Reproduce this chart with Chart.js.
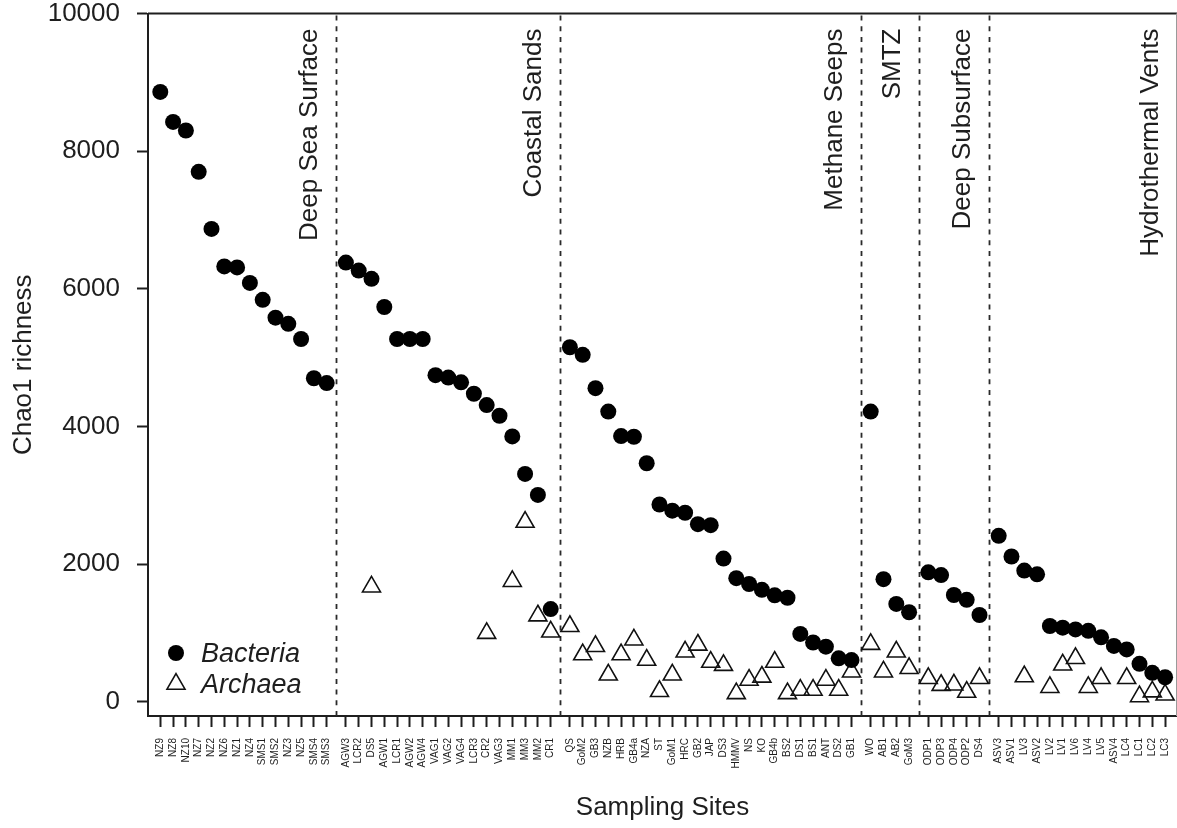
<!DOCTYPE html>
<html>
<head>
<meta charset="utf-8">
<title>Chao1 richness by sampling site</title>
<script src="https://cdn.jsdelivr.net/npm/chart.js@4.4.1/dist/chart.umd.min.js"></script>
<style>
  html, body { margin: 0; padding: 0; background: #fff; }
  canvas { display: block; }
</style>
</head>
<body>
<canvas id="richnessChart" width="1177" height="828"></canvas>
<script>
// Sites grouped by habitat, in plotting order
const groupNames = ['Deep Sea Surface', 'Coastal Sands', 'Methane Seeps', 'SMTZ', 'Deep Subsurface', 'Hydrothermal Vents'];
const groupSizes = [14, 17, 23, 4, 5, 14];

const sites = [
    'NZ9', 'NZ8', 'NZ10', 'NZ7', 'NZ2', 'NZ6', 'NZ1', 'NZ4', 'SMS1', 'SMS2', 'NZ3', 'NZ5', 'SMS4', 'SMS3',
    'AGW3', 'LCR2', 'DS5', 'AGW1', 'LCR1', 'AGW2', 'AGW4', 'VAG1', 'VAG2', 'VAG4', 'LCR3', 'CR2', 'VAG3', 'MM1', 'MM3', 'MM2', 'CR1',
    'QS', 'GoM2', 'GB3', 'NZB', 'HRB', 'GB4a', 'NZA', 'ST', 'GoM1', 'HRC', 'GB2', 'JAP', 'DS3', 'HMMV', 'NS', 'KO', 'GB4b', 'BS2', 'DS1', 'BS1', 'ANT', 'DS2', 'GB1',
    'WO', 'AB1', 'AB2', 'GoM3',
    'ODP1', 'ODP3', 'ODP4', 'ODP2', 'DS4',
    'ASV3', 'ASV1', 'LV3', 'ASV2', 'LV2', 'LV1', 'LV6', 'LV4', 'LV5', 'ASV4', 'LC4', 'LC1', 'LC2', 'LC3'
];

// Chao1 richness estimates (null = not sequenced)
const bacteria = [
    8860, 8425, 8300, 7700, 6870, 6325, 6310, 6085, 5840, 5580, 5490, 5270, 4700, 4630,
    6380, 6265, 6145, 5735, 5270, 5270, 5270, 4745, 4710, 4640, 4475, 4310, 4155, 3855, 3310, 3005, 1345,
    5150, 5040, 4555, 4215, 3860, 3850, 3465, 2865, 2775, 2745, 2580, 2565, 2080, 1795, 1710, 1625, 1545, 1510, 985, 860, 800, 630, 605,
    4215, 1780, 1420, 1300,
    1880, 1840, 1550, 1480, 1260,
    2410, 2110, 1905, 1850, 1100, 1075, 1050, 1030, 935, 810, 760, 550, 420, 355
];

const archaea = [
    null, null, null, null, null, null, null, null, null, null, null, null, null, null,
    null, null, 1670, null, null, null, null, null, null, null, null, 995, null, 1750, 2610, 1250, 1015,
    1095, 685, 805, 390, 685, 900, 605, 150, 390, 725, 825, 575, 530, 120, 315, 360, 575, 120, 170, 170, 315, 170, 435,
    835, 435, 725, 485,
    340, 240, 245, 140, 340,
    null, null, 365, null, 210, 535, 630, 210, 340, null, 340, 75, 145, 100
];

const yTicks = [0, 2000, 4000, 6000, 8000, 10000];

// x position of each site: one unit per site, half a unit extra between groups
const groupOf = [];
groupSizes.forEach((n, g) => { for (let k = 0; k < n; k++) groupOf.push(g); });
const xPos = sites.map((s, i) => i + 0.5 * groupOf[i]);

// dashed separators sit midway in each gap
const boundaries = [];
let last = -1;
groupSizes.forEach((n, g) => {
    last += n;
    if (g < groupSizes.length - 1) boundaries.push(xPos[last] + 0.75);
});

const ink = '#1e1e1e';
const fontFamily = '"Liberation Sans", Arial, Helvetica, sans-serif';

// Frame, group separators, group names and the inset legend
const decorations = {
    id: 'decorations',
    beforeDatasetsDraw(chart) {
        const { ctx, chartArea: area, scales: { x } } = chart;
        ctx.save();

        // top and right sides of the box
        ctx.strokeStyle = ink;
        ctx.lineWidth = 2;
        ctx.beginPath();
        ctx.moveTo(area.left, area.top);
        ctx.lineTo(area.right, area.top);
        ctx.stroke();
        ctx.strokeStyle = '#9a9a9a';
        ctx.beginPath();
        ctx.moveTo(area.right, area.top);
        ctx.lineTo(area.right, area.bottom);
        ctx.stroke();

        // dashed separators
        ctx.lineWidth = 1.8;
        ctx.strokeStyle = '#2a2a2a';
        ctx.setLineDash([5, 5.7]);
        boundaries.forEach(b => {
            const px = Math.round(x.getPixelForValue(b)) + 0.5;
            ctx.beginPath();
            ctx.moveTo(px, area.top + 2);
            ctx.lineTo(px, area.bottom);
            ctx.stroke();
        });
        ctx.setLineDash([]);

        // group names, read bottom to top, left of each separator
        ctx.fillStyle = ink;
        ctx.font = '26px ' + fontFamily;
        ctx.textAlign = 'right';
        ctx.textBaseline = 'alphabetic';
        groupNames.forEach((name, g) => {
            const edge = g < boundaries.length ? x.getPixelForValue(boundaries[g]) : area.right;
            ctx.save();
            ctx.translate(edge - 19, area.top + 15);
            ctx.rotate(-Math.PI / 2);
            ctx.fillText(name, 0, 0);
            ctx.restore();
        });
        ctx.restore();
    },
    afterDraw(chart) {
        const { ctx, chartArea: area } = chart;
        const cx = area.left + 28;
        const y1 = area.bottom - 63;
        const y2 = area.bottom - 32;
        ctx.save();
        ctx.fillStyle = '#000';
        ctx.beginPath();
        ctx.arc(cx, y1, 8, 0, Math.PI * 2);
        ctx.fill();

        const r = 10.4;
        ctx.strokeStyle = '#111';
        ctx.lineWidth = 1.6;
        ctx.beginPath();
        ctx.moveTo(cx, y2 - r);
        ctx.lineTo(cx + r * Math.sqrt(3) / 2, y2 + r / 2);
        ctx.lineTo(cx - r * Math.sqrt(3) / 2, y2 + r / 2);
        ctx.closePath();
        ctx.stroke();

        ctx.fillStyle = ink;
        ctx.font = 'italic 27px ' + fontFamily;
        ctx.textAlign = 'left';
        ctx.textBaseline = 'middle';
        ctx.fillText('Bacteria', cx + 25, y1 + 1);
        ctx.fillText('Archaea', cx + 25, y2 + 1);
        ctx.restore();
    }
};

const ctx = document.getElementById('richnessChart').getContext('2d');

new Chart(ctx, {
    type: 'scatter',
    data: {
        datasets: [
            {
                label: 'Bacteria',
                data: bacteria.map((v, i) => ({ x: xPos[i], y: v })),
                pointStyle: 'circle',
                pointRadius: 8,
                backgroundColor: '#000',
                borderColor: '#000',
                borderWidth: 0
            },
            {
                label: 'Archaea',
                data: archaea.map((v, i) => ({ x: xPos[i], y: v })),
                pointStyle: 'triangle',
                pointRadius: 10.4,
                backgroundColor: 'rgba(255,255,255,0)',
                borderColor: '#111',
                borderWidth: 1.6
            }
        ]
    },
    options: {
        responsive: false,
        animation: false,
        events: [],
        layout: { autoPadding: false, padding: { top: 13.5, right: 0, bottom: 0, left: 0 } },
        plugins: {
            legend: { display: false },
            tooltip: { enabled: false }
        },
        scales: {
            x: {
                type: 'linear',
                min: -0.96,
                max: 79.43,
                afterBuildTicks: scale => { scale.ticks = xPos.map(v => ({ value: v })); },
                afterFit: scale => {
                    scale.height = 112;
                    scale.paddingLeft = 0;
                    scale.paddingRight = 0;
                },
                ticks: {
                    autoSkip: false,
                    minRotation: 90,
                    maxRotation: 90,
                    padding: 11,
                    color: ink,
                    font: { family: fontFamily, size: 10 },
                    callback: (value, index) => sites[index]
                },
                grid: {
                    drawOnChartArea: false,
                    drawTicks: true,
                    tickLength: 11,
                    tickWidth: 2,
                    tickColor: ink,
                    color: ink
                },
                border: { display: true, color: ink, width: 2 },
                title: {
                    display: true,
                    text: 'Sampling Sites',
                    color: ink,
                    font: { family: fontFamily, size: 26 },
                    padding: { bottom: 5 }
                }
            },
            y: {
                min: -208,
                max: 10000,
                afterBuildTicks: scale => { scale.ticks = yTicks.map(v => ({ value: v })); },
                afterFit: scale => {
                    scale.width = 148;
                    scale.paddingTop = 0;
                    scale.paddingBottom = 0;
                },
                ticks: {
                    padding: 17,
                    color: ink,
                    font: { family: fontFamily, size: 26, lineHeight: 1 },
                    callback: value => String(value)
                },
                grid: {
                    drawOnChartArea: false,
                    drawTicks: true,
                    tickLength: 11,
                    tickWidth: 2,
                    tickColor: ink,
                    color: ink
                },
                border: { display: true, color: ink, width: 2 },
                title: {
                    display: true,
                    text: 'Chao1 richness',
                    color: ink,
                    font: { family: fontFamily, size: 26 },
                    padding: { top: 8 }
                }
            }
        }
    },
    plugins: [decorations]
});
</script>
</body>
</html>
